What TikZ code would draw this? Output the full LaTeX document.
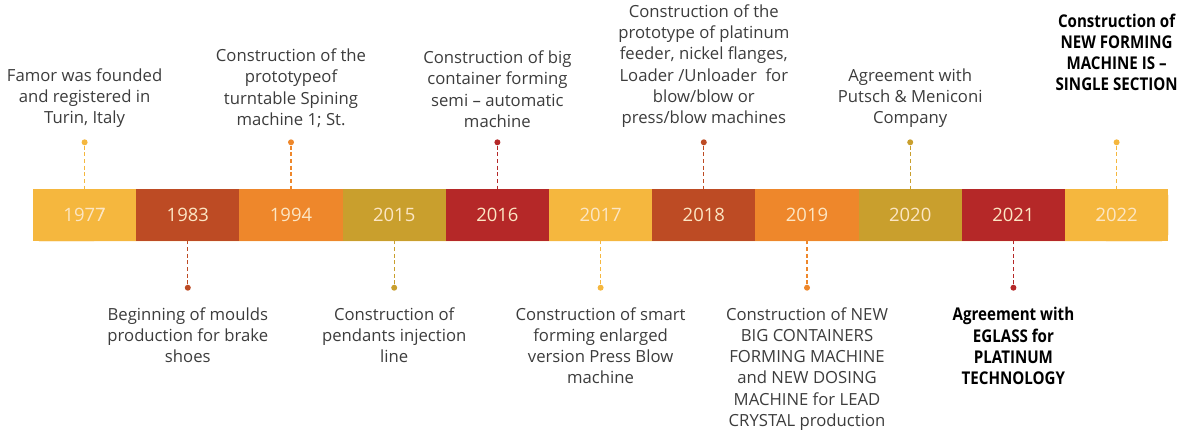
\documentclass[tikz,border=0pt]{standalone}
\usepackage{fontspec}
\setmainfont{Open Sans}
\newfontfamily\narrowbold[FakeStretch=0.86,Ligatures=TeX]{Open Sans}
\usepackage{tikz}
\usetikzlibrary{positioning}
\definecolor{sunyellow}{HTML}{F5B73E}
\definecolor{rustbrown}{HTML}{BD4B24}
\definecolor{brightorange}{HTML}{EE872B}
\definecolor{mustard}{HTML}{C99F2D}
\definecolor{deepred}{HTML}{B52828}
\definecolor{creamtext}{HTML}{FCE6C4}
\definecolor{graytext}{HTML}{3C3C3C}
\tikzset{
  yearseg/.style={minimum width=20.64mm,minimum height=10.4mm,inner sep=0pt,
    text=creamtext,font=\fontsize{10.5}{12}\selectfont},
  evdot/.style={circle,inner sep=0pt,minimum size=1.2mm},
  stem/.style={line width=0.7pt,dash pattern=on 2.2pt off 1.6pt},
  evlabel/.style={align=center,inner sep=0pt,text=graytext,
    font=\fontsize{9.5}{12.1}\selectfont},
  boldlabel/.style={evlabel,text=black,
    font=\fontsize{10}{12.1}\selectfont\narrowbold\bfseries},
}

\begin{document}
\begin{tikzpicture}[x=0.2mm,y=0.2mm]
  \useasboundingbox (0,0) rectangle (1200,430);
  % timeline bar
  \fill[sunyellow,rounded corners=1.2mm] (33,189) rectangle (1168,241);
  \foreach \yr/\col/\side [count=\i from 0] in {1977/sunyellow/above,
      1983/rustbrown/below,1994/brightorange/above,2015/mustard/below,
      2016/deepred/above,2017/sunyellow/below,2018/rustbrown/above,
      2019/brightorange/below,2020/mustard/above,2021/deepred/below,
      2022/sunyellow/above}{
    \node[yearseg,fill=\col] (s\yr) at ({84.6+103.2*\i},215) {\yr};
    \node[evdot,fill=\col,\side=8.6mm of s\yr] (d\yr) {};
    \draw[stem,\col] (d\yr) -- (s\yr);
  }
  \fill[sunyellow,rounded corners=1.2mm] (33,189) rectangle (100,241);
  \fill[sunyellow,rounded corners=1.2mm] (1100,189) rectangle (1168,241);
  \node[yearseg] at (s1977) {1977};
  \node[yearseg] at (s2022) {2022};
  % events above
  \node[evlabel,above=2.2mm of d1977] (e1977)
    {Famor was founded\\and registered in\\Turin, Italy};
  \node[evlabel,above=2.2mm of d1994] (e1994)
    {Construction of the\\prototypeof\\turntable Spining\\machine 1; St.};
  \node[evlabel,above=2.2mm of d2016] (e2016)
    {Construction of big\\container forming\\semi \textendash{} automatic\\machine};
  \node[evlabel,above=2.2mm of d2018] (e2018)
    {Construction of the\\prototype of platinum\\feeder, nickel flanges,\\Loader /Unloader\ \ for\\blow/blow or\\press/blow machines};
  \node[evlabel,above=2.2mm of d2020] (e2020)
    {Agreement with\\Putsch \& Meniconi\\Company};
  \node[boldlabel,above=9.5mm of d2022] (e2022)
    {Construction of\\NEW FORMING\\MACHINE IS \textendash\\SINGLE SECTION};
  % events below
  \node[evlabel,below=3.2mm of d1983] (e1983)
    {Beginning of moulds\\production for brake\\shoes};
  \node[evlabel,below=3.2mm of d2015] (e2015)
    {Construction of\\pendants injection\\line};
  \node[evlabel,below=3.2mm of d2017] (e2017)
    {Construction of smart\\forming enlarged\\version Press Blow\\machine};
  \node[evlabel,below=3.2mm of d2019] (e2019)
    {Construction of NEW\\BIG CONTAINERS\\FORMING MACHINE\\and NEW DOSING\\MACHINE for LEAD\\CRYSTAL production};
  \node[boldlabel,below=3.2mm of d2021] (e2021)
    {Agreement with\\EGLASS for\\PLATINUM\\TECHNOLOGY};
\end{tikzpicture}
\end{document}
